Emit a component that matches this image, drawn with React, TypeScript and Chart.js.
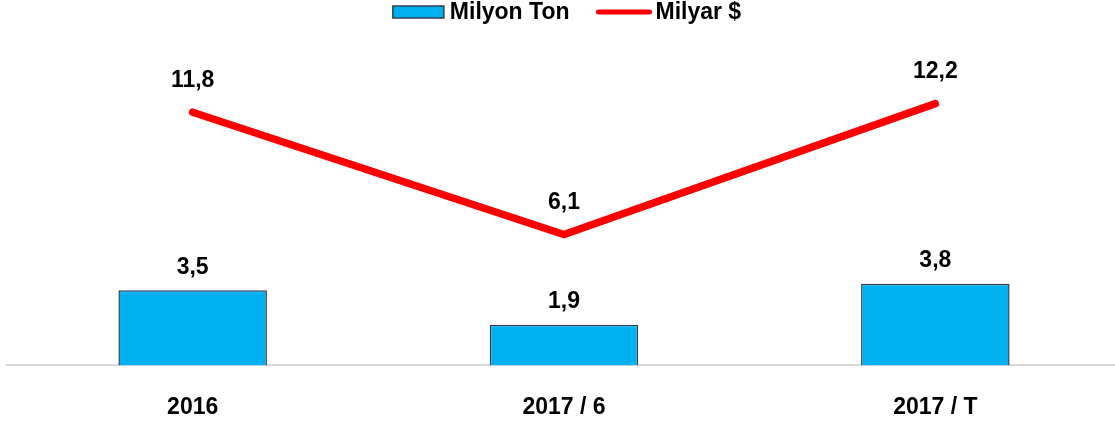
import React, { useEffect, useRef } from 'react';
import { Chart, registerables } from 'chart.js';

Chart.register(...registerables);

const categories = ['2016', '2017 / 6', '2017 / T'];
const tonValues = [3.5, 1.9, 3.8];
const usdValues = [11.8, 6.1, 12.2];
const seriesNames = ['Milyon Ton', 'Milyar $'];

const FONT = '"Liberation Sans", Arial, sans-serif';
const FONT_SIZE = 23;

export default function App() {
  const ref = useRef<HTMLCanvasElement>(null);

  useEffect(() => {
    if (!ref.current) return;

    const labelPlugin = {
      id: 'valueLabels',
      afterDatasetsDraw(chart: any) {
        const ctx = chart.ctx;
        ctx.save();
        ctx.font = `bold ${FONT_SIZE}px ${FONT}`;
        ctx.fillStyle = '#000';
        ctx.textAlign = 'center';
        ctx.textBaseline = 'middle';
        chart.data.datasets.forEach((ds: any, i: number) => {
          const meta = chart.getDatasetMeta(i);
          const off = ds.type === 'line' ? 32 : 23;
          meta.data.forEach((el: any, j: number) => {
            const v = ds.data[j] as number;
            ctx.fillText(v.toFixed(1).replace('.', ','), el.x, el.y - off);
          });
        });
        ctx.restore();
      },
    };

    const legendPlugin = {
      id: 'customLegend',
      afterDraw(chart: any) {
        const ctx = chart.ctx;
        ctx.save();
        ctx.font = `bold ${FONT_SIZE}px ${FONT}`;
        const w1 = ctx.measureText(seriesNames[0]).width;
        const w2 = ctx.measureText(seriesNames[1]).width;
        const boxW = 51, gapT = 6, gapItem = 27, lineW = 55, gapT2 = 4;
        const total = boxW + gapT + w1 + gapItem + lineW + gapT2 + w2;
        const cx = (chart.chartArea.left + chart.chartArea.right) / 2 + 3;
        let x = cx - total / 2;
        const y = 12;
        ctx.fillStyle = '#00b0f0';
        ctx.fillRect(x, y - 6, boxW, 12);
        ctx.strokeStyle = '#333f50';
        ctx.lineWidth = 1.5;
        ctx.strokeRect(x, y - 6, boxW, 12);
        x += boxW + gapT;
        ctx.fillStyle = '#000';
        ctx.textBaseline = 'middle';
        ctx.textAlign = 'left';
        ctx.fillText(seriesNames[0], x, y + 1);
        x += w1 + gapItem;
        ctx.strokeStyle = '#ff0000';
        ctx.lineWidth = 5;
        ctx.lineCap = 'round';
        ctx.beginPath();
        ctx.moveTo(x + 2, y);
        ctx.lineTo(x + lineW - 2, y);
        ctx.stroke();
        x += lineW + gapT2;
        ctx.fillText(seriesNames[1], x, y + 1);
        ctx.restore();
      },
    };

    const chart = new Chart(ref.current, {
      type: 'bar',
      data: {
        labels: categories,
        datasets: [
          {
            type: 'line',
            label: seriesNames[1],
            data: usdValues,
            borderColor: '#ff0000',
            backgroundColor: '#ff0000',
            borderWidth: 7.5,
            pointRadius: 0,
            pointHoverRadius: 0,
            borderCapStyle: 'round',
            borderJoinStyle: 'miter',
            tension: 0,
            fill: false,
            order: 0,
          } as any,
          {
            type: 'bar',
            label: seriesNames[0],
            data: tonValues,
            backgroundColor: '#00b0f0',
            borderColor: '#333f50',
            borderWidth: 1.5,
            barPercentage: 0.4,
            categoryPercentage: 1,
            order: 1,
          } as any,
        ],
      },
      options: {
        responsive: false,
        animation: false,
        devicePixelRatio: 1,
        layout: { padding: { left: 7, right: 7, top: 65, bottom: 7 } },
        plugins: {
          legend: { display: false },
          tooltip: { enabled: false },
        },
        scales: {
          x: {
            offset: true,
            grid: { display: false, drawTicks: false },
            border: { display: true, color: '#d9d9d9', width: 2 },
            ticks: {
              color: '#000',
              padding: 28,
              font: { family: FONT, size: FONT_SIZE, weight: 'bold' },
            },
          },
          y: { display: false, min: 0, max: 14 },
        },
      },
      plugins: [labelPlugin, legendPlugin],
    });

    return () => chart.destroy();
  }, []);

  return (
    <div style={{ position: 'absolute', left: 0, top: 0, width: 1115, height: 425, overflow: 'hidden', background: '#fff' }}>
      <canvas ref={ref} width={1128} height={456} style={{ width: 1128, height: 456, display: 'block' }} />
    </div>
  );
}
